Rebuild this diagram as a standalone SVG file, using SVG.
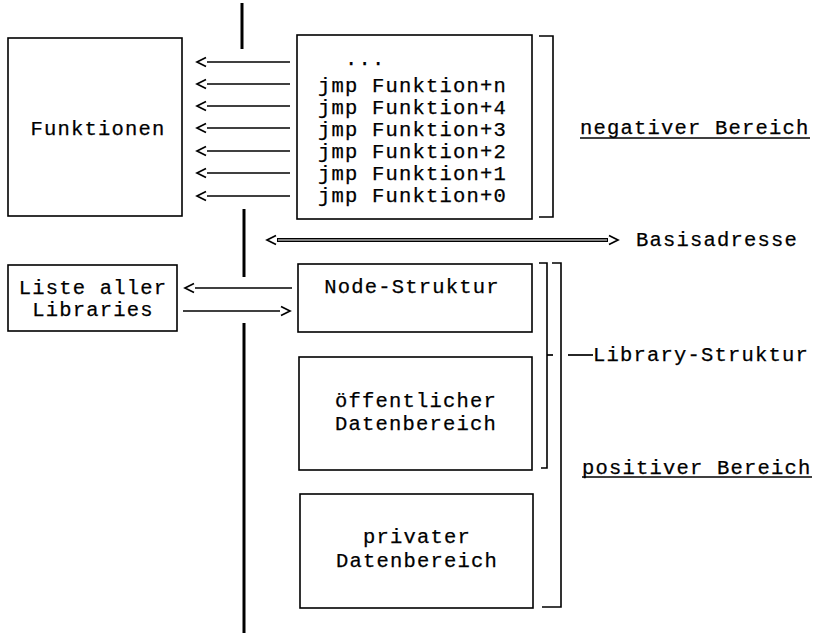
<svg xmlns="http://www.w3.org/2000/svg" width="822" height="644" viewBox="0 0 822 644">
  <style>
    .box { fill: #fff; stroke: #000; stroke-width: 1.6; }
    .t { font-family: "Liberation Mono", "DejaVu Sans Mono", monospace; font-size: 20.5px; letter-spacing: 1.2px; fill: #000; stroke: #000; stroke-width: 0.25; }
    .c { text-anchor: middle; }
    .ln { stroke: #000; stroke-width: 1.7; fill: none; }
    .br { stroke: #000; stroke-width: 1.6; fill: none; }
    .axis { stroke: #000; stroke-width: 3; }
  </style>
  <defs>
    <marker id="head" viewBox="-2 -1 13 12" refX="-1" refY="5" markerWidth="13" markerHeight="12" markerUnits="userSpaceOnUse" orient="auto-start-reverse">
      <path d="M0,0.5 L9,5 L0,9.5" fill="none" stroke="#000" stroke-width="1.7"/>
    </marker>
  </defs>

  <rect width="822" height="644" fill="#fff"/>

  <!-- vertical dividing axis, broken where the connectors cross -->
  <g id="axis">
    <line class="axis" x1="242" y1="3" x2="242" y2="49"/>
    <line class="axis" x1="244" y1="209" x2="244" y2="277"/>
    <line class="axis" x1="244" y1="323" x2="244" y2="633"/>
  </g>

  <g id="funktionen">
    <rect class="box" x="8" y="38" width="174" height="178"/>
    <text class="t c" x="98" y="135">Funktionen</text>
  </g>

  <g id="sprungtabelle">
    <rect class="box" x="297" y="35" width="235" height="184"/>
    <text class="t" x="345" y="65">...</text>
    <text class="t" x="318" y="92">jmp Funktion+n</text>
    <text class="t" x="318" y="114">jmp Funktion+4</text>
    <text class="t" x="318" y="136">jmp Funktion+3</text>
    <text class="t" x="318" y="158">jmp Funktion+2</text>
    <text class="t" x="318" y="180">jmp Funktion+1</text>
    <text class="t" x="318" y="202">jmp Funktion+0</text>
  </g>

  <g id="liste">
    <rect class="box" x="8" y="265" width="169" height="66"/>
    <text class="t c" x="93" y="294">Liste aller</text>
    <text class="t c" x="93" y="316">Libraries</text>
  </g>

  <g id="node-struktur">
    <rect class="box" x="298" y="264" width="234" height="68"/>
    <text class="t c" x="412" y="293">Node-Struktur</text>
  </g>

  <g id="oeffentlich">
    <rect class="box" x="299" y="357" width="233" height="113"/>
    <text class="t c" x="416" y="407">öffentlicher</text>
    <text class="t c" x="416" y="430">Datenbereich</text>
  </g>

  <g id="privat">
    <rect class="box" x="300" y="494" width="233" height="114"/>
    <text class="t c" x="417" y="543">privater</text>
    <text class="t c" x="417" y="567">Datenbereich</text>
  </g>

  <!-- brackets and range labels -->
  <g id="bereiche">
    <path class="br" d="M539,36 H553 V217 H539"/>
    <text class="t" x="580" y="134">negativer Bereich</text>
    <line class="ln" x1="580" y1="138" x2="810" y2="138"/>

    <path class="br" d="M539,263 H547 V468 H541"/>
    <line class="ln" x1="547" y1="355" x2="553" y2="355"/>
    <path class="br" d="M552,263 H561 V607 H542"/>
    <line class="ln" x1="568" y1="355" x2="593" y2="355"/>
    <text class="t" x="593" y="361">Library-Struktur</text>

    <text class="t" x="582" y="474">positiver Bereich</text>
    <line class="ln" x1="582" y1="477" x2="812" y2="477"/>
  </g>

  <g id="connectors">
    <line class="ln" x1="207" y1="62" x2="290" y2="62" marker-start="url(#head)"/>
    <line class="ln" x1="207" y1="84" x2="290" y2="84" marker-start="url(#head)"/>
    <line class="ln" x1="207" y1="106" x2="290" y2="106" marker-start="url(#head)"/>
    <line class="ln" x1="207" y1="128" x2="290" y2="128" marker-start="url(#head)"/>
    <line class="ln" x1="207" y1="151" x2="290" y2="151" marker-start="url(#head)"/>
    <line class="ln" x1="207" y1="173" x2="290" y2="173" marker-start="url(#head)"/>
    <line class="ln" x1="207" y1="196" x2="290" y2="196" marker-start="url(#head)"/>

    <!-- Basisadresse: double line with heads at both ends -->
    <line x1="277" y1="240" x2="608" y2="240" stroke="#000" stroke-width="4" marker-start="url(#head)" marker-end="url(#head)"/>
    <line x1="278" y1="240" x2="607" y2="240" stroke="#fff" stroke-width="1.2"/>

    <line class="ln" x1="195" y1="288" x2="292" y2="288" marker-start="url(#head)"/>
    <line class="ln" x1="183" y1="311" x2="280" y2="311" marker-end="url(#head)"/>
  </g>
  <text class="t" x="636" y="246">Basisadresse</text>
</svg>
